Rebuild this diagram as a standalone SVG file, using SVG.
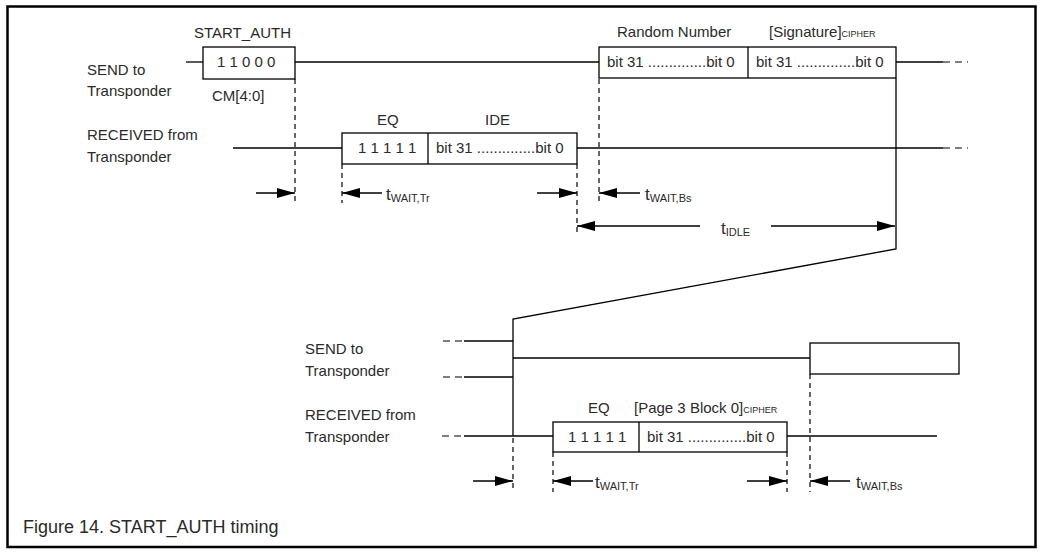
<svg xmlns="http://www.w3.org/2000/svg" width="1043" height="556" viewBox="0 0 1043 556">
<style>
text{font-family:"Liberation Sans",Arial,sans-serif;font-size:15px;fill:#2a2a2a}
.t{font-size:17px}
.sub{font-size:11px}
.sub9{font-size:9px}
.cap{font-size:18px}
.box{fill:#fff;stroke:#000;stroke-width:1.3}
.ln{stroke:#000;stroke-width:1.3;fill:none}
.dash{stroke:#000;stroke-width:1.2;fill:none;stroke-dasharray:5,4}
.dend{stroke:#000;stroke-width:1.2;fill:none;stroke-dasharray:7,5}
.arr{stroke:#000;stroke-width:1.3;fill:none;marker-end:url(#ah)}
</style>
<defs>
<marker id="ah" markerUnits="userSpaceOnUse" markerWidth="18" markerHeight="10" refX="18" refY="5" orient="auto">
<path d="M0,0 L18,5 L0,10 z" fill="#000"/>
</marker>
</defs>
<rect x="7.5" y="6.5" width="1028" height="540.5" fill="#fff" stroke="#000" stroke-width="2.5"/>

<g id="labels">
<text x="87" y="75">SEND to</text>
<text x="87" y="96">Transponder</text>
<text x="87" y="140">RECEIVED from</text>
<text x="87" y="162">Transponder</text>
<text x="305" y="354">SEND to</text>
<text x="305" y="376">Transponder</text>
<text x="305" y="420">RECEIVED from</text>
<text x="305" y="442">Transponder</text>
<text class="cap" x="23" y="533">Figure 14. START_AUTH timing</text>
</g>

<g id="connectors">
<line class="ln" x1="186" y1="62" x2="203" y2="62"/>
<line class="ln" x1="295" y1="62" x2="599" y2="62"/>
<line class="ln" x1="896" y1="62" x2="943" y2="62"/>
<line class="dend" x1="943" y1="62" x2="968" y2="62"/>
<line class="ln" x1="233" y1="148" x2="342" y2="148"/>
<line class="ln" x1="577" y1="148" x2="943" y2="148"/>
<line class="dend" x1="943" y1="148" x2="968" y2="148"/>
<polyline class="ln" points="896,78 896,249 513,319 513,436"/>
<line class="dend" x1="443" y1="341" x2="464" y2="341"/>
<line class="ln" x1="464" y1="341" x2="513" y2="341"/>
<line class="dend" x1="443" y1="377" x2="464" y2="377"/>
<line class="ln" x1="464" y1="377" x2="513" y2="377"/>
<line class="ln" x1="513" y1="358" x2="810" y2="358"/>
<line class="dend" x1="442" y1="436" x2="464" y2="436"/>
<line class="ln" x1="464" y1="436" x2="553" y2="436"/>
<line class="ln" x1="787" y1="436" x2="937" y2="436"/>
<line class="dash" x1="295" y1="79" x2="295" y2="203"/>
<line class="dash" x1="342" y1="164" x2="342" y2="203"/>
<line class="dash" x1="577" y1="164" x2="577" y2="234"/>
<line class="dash" x1="599" y1="79" x2="599" y2="203"/>
<line class="dash" x1="513" y1="438" x2="513" y2="492"/>
<line class="dash" x1="553" y1="452" x2="553" y2="492"/>
<line class="dash" x1="787" y1="452" x2="787" y2="492"/>
<line class="dash" x1="810" y1="374" x2="810" y2="492"/>
<line class="arr" x1="256" y1="193" x2="295" y2="193"/>
<line class="arr" x1="382" y1="193" x2="342" y2="193"/>
<line class="arr" x1="537" y1="193" x2="577" y2="193"/>
<line class="arr" x1="640" y1="193" x2="599" y2="193"/>
<line class="arr" x1="700" y1="226" x2="577" y2="226"/>
<line class="arr" x1="771" y1="226" x2="895" y2="226"/>
<line class="arr" x1="473" y1="481" x2="513" y2="481"/>
<line class="arr" x1="593" y1="481" x2="553" y2="481"/>
<line class="arr" x1="747" y1="481" x2="787" y2="481"/>
<line class="arr" x1="850" y1="481" x2="810" y2="481"/>
</g>

<g id="timing-labels">
<text class="t" x="386" y="200">t<tspan class="sub" dy="2">WAIT,Tr</tspan></text>
<text class="t" x="645" y="200">t<tspan class="sub" dy="2">WAIT,Bs</tspan></text>
<text class="t" x="721" y="234">t<tspan class="sub" dy="2">IDLE</tspan></text>
<text class="t" x="595" y="488">t<tspan class="sub" dy="2">WAIT,Tr</tspan></text>
<text class="t" x="856" y="488">t<tspan class="sub" dy="2">WAIT,Bs</tspan></text>
</g>

<g id="start-auth">
<text x="194" y="38">START_AUTH</text>
<rect class="box" x="203" y="47" width="92" height="32"/>
<text x="217" y="67">1 1 0 0 0</text>
<text x="212" y="101">CM[4:0]</text>
</g>

<g id="eq-ide">
<text x="377" y="125">EQ</text>
<text x="485" y="125">IDE</text>
<rect class="box" x="342" y="133" width="235" height="31"/>
<line class="ln" x1="428" y1="133" x2="428" y2="164"/>
<text x="358" y="153">1 1 1 1 1</text>
<text x="436" y="153">bit 31 ..............bit 0</text>
</g>

<g id="random-signature">
<text x="617" y="37">Random Number</text>
<text x="769" y="37">[Signature]<tspan class="sub9">CIPHER</tspan></text>
<rect class="box" x="599" y="47" width="297" height="31"/>
<line class="ln" x1="748" y1="47" x2="748" y2="78"/>
<text x="607" y="67">bit 31 ..............bit 0</text>
<text x="756" y="67">bit 31 ..............bit 0</text>
</g>

<g id="next-command">
<rect class="box" x="810" y="343" width="149" height="31"/>
</g>

<g id="eq-page3">
<text x="588" y="413">EQ</text>
<text x="634" y="413">[Page 3 Block 0]<tspan class="sub9">CIPHER</tspan></text>
<rect class="box" x="553" y="422" width="234" height="30"/>
<line class="ln" x1="639" y1="422" x2="639" y2="452"/>
<text x="568" y="442">1 1 1 1 1</text>
<text x="647" y="442">bit 31 ..............bit 0</text>
</g>
</svg>
